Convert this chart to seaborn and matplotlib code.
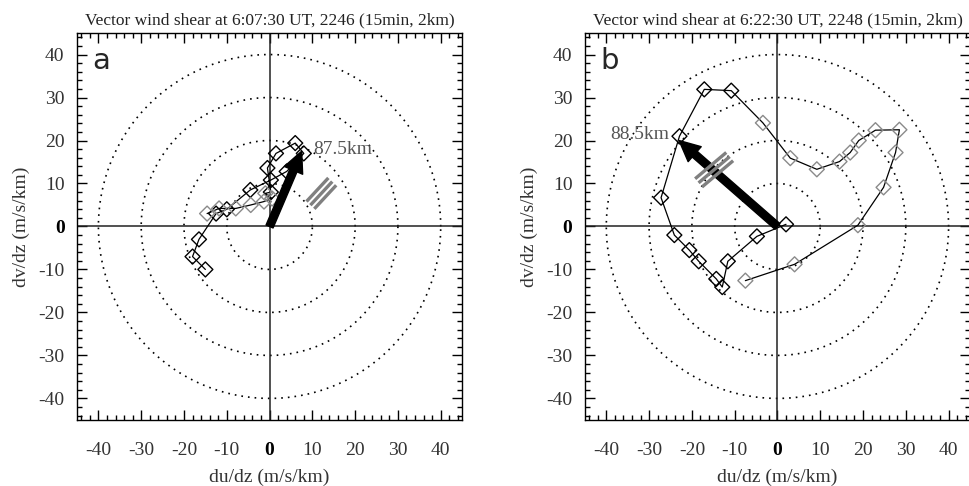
import numpy as np
import pandas as pd
import matplotlib
matplotlib.use("Agg")
import matplotlib.pyplot as plt
from matplotlib.ticker import MultipleLocator
import seaborn as sns

# ---------------- data ----------------
titles = ["Vector wind shear at 6:07:30 UT, 2246 (15min, 2km)",
          "Vector wind shear at 6:22:30 UT, 2248 (15min, 2km)"]
panel_letters = ["a", "b"]
ring_radii = [10, 20, 30, 40]
major_ticks = [-40, -30, -20, -10, 0, 10, 20, 30, 40]

# panel a hodograph (du/dz, dv/dz) and marker shade (k = black, g = gray)
a_u = [-15, -18, -16.5, -12.5, -10, -4.5, 0.3, 4, 8, 6, 1.5, -0.5, 0.3,
       -1, 0.6, -1.3, -4.4, -7.9, -11.8, -14.6]
a_v = [-10, -7, -3, 3, 4, 8.5, 10.8, 12.8, 17, 19.4, 17, 13.6, 8,
       7.7, 6.5, 5.8, 5, 4.2, 4.2, 3]
a_shade = ["k"] * 13 + ["g"] * 7

# panel b hodograph
b_u = [-7.5, 4, 18.8, 24.8, 27.6, 28.5, 22.9, 19, 17, 14.5, 9.2, 3, -3.4,
       -10.8, -17.1, -22.9, -27.2, -24.1, -20.6, -18.4, -14.3, -12.9,
       -11.6, -4.8, 2]
b_v = [-12.6, -8.8, 0.3, 9.1, 17.2, 22.5, 22.4, 20, 17.2, 15.1, 13.3, 15.9,
       24.1, 31.6, 31.9, 21, 6.7, -2, -5.5, -8.1, -12.2, -14.1,
       -8.1, -2.3, 0.5]
b_shade = ["g"] * 13 + ["k"] * 12

# mean shear vectors, labels and hatch markers
shear_u = [7.5, -23]
shear_v = [17.5, 20]
shear_labels = ["87.5km", "88.5km"]
label_u = [10.2, -25.2]
label_v = [18, 21.4]
label_ha = ["left", "right"]
hatch_cu = [12.1, -14.8]
hatch_cv = [7.7, 13.2]
hatch_angle = [47, 40]
hatch_len = [7.5, 9.5]

series = [(a_u, a_v, a_shade), (b_u, b_v, b_shade)]

# ---------------- style ----------------
sns.set_style("ticks")
plt.rcParams["font.family"] = ["Liberation Serif", "DejaVu Serif"]
plt.rcParams["xtick.direction"] = "in"
plt.rcParams["ytick.direction"] = "in"

fig = plt.figure(figsize=(9.7, 4.86), dpi=100)
positions = [[0.0794, 0.136, 0.397, 0.796], [0.603, 0.136, 0.397, 0.796]]
palette = {"k": "black", "g": "#8a8a8a"}

theta = np.linspace(0, 2 * np.pi, 400)

for i in range(2):
    ax = fig.add_axes(positions[i])
    u, v, shade = series[i]
    df = pd.DataFrame({"u": u, "v": v, "shade": shade})

    # dotted rings
    for r in ring_radii:
        ax.plot(r * np.cos(theta), r * np.sin(theta), color="black",
                lw=1.2, linestyle=(0, (1, 3.0)), zorder=1)
    ax.axhline(0, color="#222222", lw=1.1, zorder=1)
    ax.axvline(0, color="#222222", lw=1.1, zorder=1)

    sns.lineplot(data=df, x="u", y="v", sort=False, estimator=None,
                 color="black", lw=0.9, ax=ax, zorder=3)
    sns.scatterplot(data=df, x="u", y="v", hue="shade", palette=palette,
                    marker="D", s=58, facecolor="none", ax=ax, legend=False,
                    zorder=4, linewidth=1.0)
    coll = ax.collections[-1]
    cols = [palette[s] for s in shade]
    coll.set_edgecolors(cols)
    coll.set_facecolors("none")

    # hatch marks (three parallel gray bars)
    ang = np.deg2rad(hatch_angle[i])
    d = np.array([np.cos(ang), np.sin(ang)])
    nrm = np.array([np.sin(ang), -np.cos(ang)])
    for k in (-1, 0, 1):
        c = np.array([hatch_cu[i], hatch_cv[i]]) + k * 1.25 * nrm
        p0 = c - d * hatch_len[i] / 2
        p1 = c + d * hatch_len[i] / 2
        ax.plot([p0[0], p1[0]], [p0[1], p1[1]], color="#808080", lw=2.4,
                solid_capstyle="butt", zorder=7)

    # shear arrow
    ax.annotate("", xy=(shear_u[i], shear_v[i]), xytext=(0, 0),
                arrowprops=dict(arrowstyle="simple,head_length=1.15,head_width=1.1,tail_width=0.42",
                                color="black", mutation_scale=13,
                                shrinkA=0, shrinkB=0), zorder=6)
    ax.text(label_u[i], label_v[i], shear_labels[i], ha=label_ha[i],
            va="center", fontsize=14, color="#555555", zorder=7)

    ax.text(0.04, 0.965, panel_letters[i], transform=ax.transAxes,
            fontsize=21, family="DejaVu Sans", ha="left", va="top")

    ax.set_xlim(-45, 45)
    ax.set_ylim(-45, 45)
    ax.set_xticks(major_ticks, labels=[str(t) for t in major_ticks])
    ax.set_yticks(major_ticks, labels=[str(t) for t in major_ticks])
    ax.xaxis.set_minor_locator(MultipleLocator(2))
    ax.yaxis.set_minor_locator(MultipleLocator(2))
    ax.tick_params(which="both", top=True, right=True, labelsize=14,
                   labelcolor="#333333", color="black")
    ax.tick_params(which="major", length=7, width=1)
    ax.tick_params(which="minor", length=3.5, width=1)
    ax.tick_params(axis="x", pad=16)
    ax.tick_params(axis="y", pad=9)
    for lab in ax.get_xticklabels() + ax.get_yticklabels():
        if lab.get_text() == "0":
            lab.set_fontweight("bold")
            lab.set_color("black")
    for sp in ax.spines.values():
        sp.set_linewidth(1.0)
        sp.set_color("black")
        sp.set_visible(True)
    ax.set_xlabel("du/dz (m/s/km)", fontsize=14, color="#333333", labelpad=7)
    ax.set_ylabel("dv/dz (m/s/km)", fontsize=14, color="#333333", labelpad=6)
    ax.set_title(titles[i], fontsize=12.5, color="#222222", pad=6)

fig.savefig("out.png", dpi=100)
